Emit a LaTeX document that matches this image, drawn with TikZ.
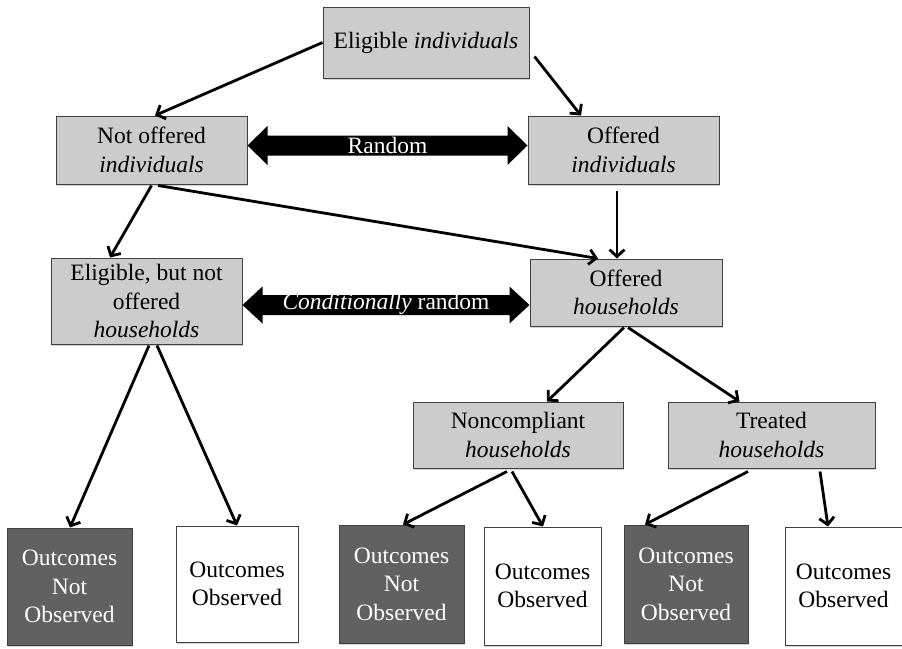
\documentclass[tikz,border=0pt]{standalone}
\usepackage{fontspec}
\setmainfont{Liberation Serif}
\usetikzlibrary{arrows.meta,calc,shadows}
\begin{document}
\begin{tikzpicture}[x=1pt,y=-1pt,
  txt/.style={font=\fontsize{23.5}{28.5}\selectfont, align=center, inner sep=0pt},
  graybox/.style={txt, rectangle, draw=black!75, line width=1pt, fill=black!20,
    drop shadow={shadow xshift=1.2pt,shadow yshift=-1.5pt,opacity=0.35}},
  darkbox/.style={txt, rectangle, draw=black!75, line width=1pt, fill=black!62, text=white,
    drop shadow={shadow xshift=1.2pt,shadow yshift=-1.5pt,opacity=0.35}},
  whitebox/.style={txt, rectangle, draw=black!75, line width=1pt, fill=white,
    drop shadow={shadow xshift=1.2pt,shadow yshift=-1.5pt,opacity=0.35}},
  conn/.style={line width=2.8pt, -{Straight Barb[length=7pt,width=15pt]}},
  bigarrow/.style={fill=black}
]
\fill[white] (0,0) rectangle (902,648);
\useasboundingbox (0,0) rectangle (902,648);

% boxes
\node[graybox, minimum width=206pt, minimum height=71pt] (top) at (426,42.5) {Eligible \textit{individuals}};
\node[graybox, minimum width=191pt, minimum height=68pt] (notind) at (151.5,150) {Not offered\\\textit{individuals}};
\node[graybox, minimum width=191pt, minimum height=68pt] (offind) at (623.5,150) {Offered\\\textit{individuals}};
\node[graybox, minimum width=191pt, minimum height=86pt] (elig) at (146.5,301) {Eligible, but not\\offered\\\textit{households}};
\node[graybox, minimum width=192pt, minimum height=67pt] (offhh) at (626,292.5) {Offered\\\textit{households}};
\node[graybox, minimum width=210pt, minimum height=66pt] (noncomp) at (518,435) {Noncompliant\\\textit{households}};
\node[graybox, minimum width=207pt, minimum height=66pt] (treated) at (771.5,435) {Treated\\\textit{households}};

\node[darkbox, minimum width=125pt, minimum height=117pt] (o1) at (69.5,586.5) {Outcomes\\Not\\Observed};
\node[whitebox, minimum width=122pt, minimum height=116pt] (o2) at (237,584) {Outcomes\\Observed};
\node[darkbox, minimum width=125pt, minimum height=118pt] (o3) at (401.5,584) {Outcomes\\Not\\Observed};
\node[whitebox, minimum width=117pt, minimum height=118pt] (o4) at (542.5,586) {Outcomes\\Observed};
\node[darkbox, minimum width=124pt, minimum height=118pt] (o5) at (686,584) {Outcomes\\Not\\Observed};
\node[whitebox, minimum width=117pt, minimum height=118pt] (o6) at (843.5,586) {Outcomes\\Observed};

% double arrows
\coordinate (r1) at ($(notind.east)+(0,-4.5)$);
\coordinate (r2) at (offind.west |- r1);
\fill[bigarrow] (r1) -- ($(r1)+(20,-19.5)$) -- ($(r1)+(20,-10)$) -- ($(r2)+(-20,-10)$) -- ($(r2)+(-20,-19.5)$) -- (r2)
  -- ($(r2)+(-20,19.5)$) -- ($(r2)+(-20,10)$) -- ($(r1)+(20,10)$) -- ($(r1)+(20,19.5)$) -- cycle;
\node[txt, text=white] (rnd) at ($(r1)!0.5!(r2)$) {Random};

\coordinate (c1) at ($(elig.east)+(0,4)$);
\coordinate (c2) at (offhh.west |- c1);
\fill[bigarrow] (c1) -- ($(c1)+(20,-18.5)$) -- ($(c1)+(20,-10)$) -- ($(c2)+(-20,-10)$) -- ($(c2)+(-20,-18.5)$) -- (c2)
  -- ($(c2)+(-20,18.5)$) -- ($(c2)+(-20,10)$) -- ($(c1)+(20,10)$) -- ($(c1)+(20,18.5)$) -- cycle;
\node[txt, text=white] (crnd) at ($(c1)!0.5!(c2)+(0,-1)$) {\textit{Conditionally} random};

% connectors
\draw[conn] (top.west) -- ($(notind.north)+(3.5,0)$);
\draw[conn] ($(top.east)+(5,14)$) -- ($(offind.north)+(-42.5,0)$);
\draw[conn] ($(notind.south)+(0,1)$) -- ($(elig.north)+(-36.5,0)$);
\draw[conn] ($(notind.south)+(6.5,1)$) -- ($(offhh.north)+(-28,0)$);
\draw[conn] ($(offind.south)+(-6.5,6)$) -- ($(offhh.north)+(-9,0)$);
\draw[conn] ($(offhh.south)+(-2,1)$) -- ($(noncomp.north)+(29,0)$);
\draw[conn] ($(offhh.south)+(2,1)$) -- ($(treated.north)+(-32,0)$);
\draw[conn] ($(elig.south)+(2.5,1)$) -- ($(o1.north)+(0.5,0)$);
\draw[conn] ($(elig.south)+(10.5,1)$) -- (o2.north);
\draw[conn] ($(noncomp.south)+(-11,3)$) -- ($(o3.north)+(1.5,0)$);
\draw[conn] ($(noncomp.south)+(-6,3)$) -- ($(o4.north)+(0.5,0)$);
\draw[conn] ($(treated.south)+(-23.5,3)$) -- ($(o5.north)+(-41,0)$);
\draw[conn] ($(treated.south)+(48.5,3)$) -- ($(o6.north)+(-15.5,0)$);
\end{tikzpicture}
\end{document}
